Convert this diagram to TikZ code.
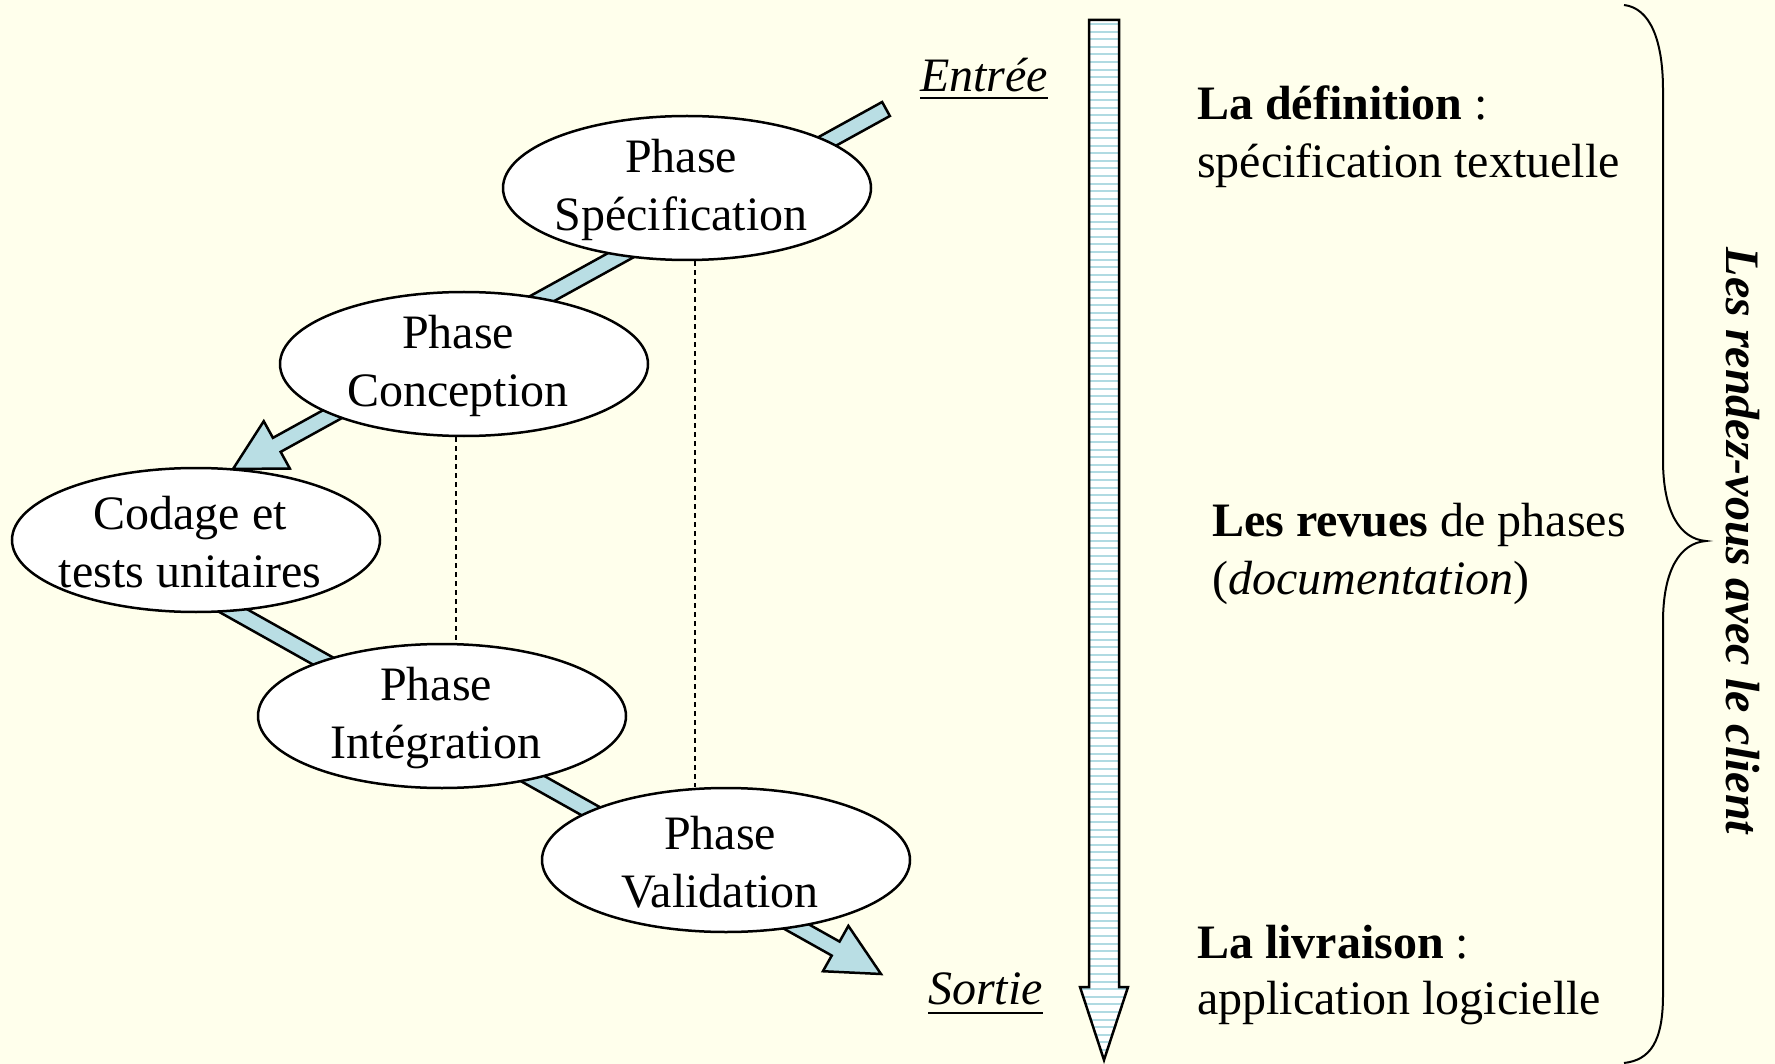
\documentclass[tikz,border=0pt]{standalone}
\usepackage{fontspec}
\setmainfont{Liberation Serif}
\usetikzlibrary{calc,shapes.geometric}
\definecolor{bgc}{RGB}{255,255,236}
\definecolor{arrc}{RGB}{185,222,228}
\definecolor{stripec}{RGB}{176,218,226}
\newcommand{\myblockarr}[5]{%
  \path ($(#2)!#5!(#1)$) coordinate (bh);
  \draw[warrow] ($(#1)!#3!90:(#2)$) -- ($(bh)!#3!90:(#2)$) -- ($(bh)!#4!90:(#2)$) -- (#2)
    -- ($(bh)!#4!-90:(#2)$) -- ($(bh)!#3!-90:(#2)$) -- ($(#1)!#3!-90:(#2)$) -- cycle;}
\begin{document}
\begin{tikzpicture}[x=1pt,y=-1pt,
  font=\fontsize{48pt}{58pt}\selectfont,
  warrow/.style={fill=arrc,draw=black,line width=2.5pt,line join=miter},
  ph/.style={ellipse,draw=black,fill=white,line width=2.5pt,minimum width=368pt,minimum height=144pt,inner sep=0pt},
  lbl/.style={align=center,inner sep=0pt,xshift=-6pt,yshift=-2pt},
  side/.style={anchor=base west,inner sep=0pt},
  dline/.style={line width=1.5pt,dash pattern=on 5pt off 4pt}]
\fill[bgc] (0,0) rectangle (1775,1064);
\useasboundingbox (0,0) rectangle (1775,1064);
% connector coordinates
\coordinate (in) at (886,109);
\coordinate (t1) at (233,469);
\coordinate (s2) at (200,592);
\coordinate (out) at (881,974);
\myblockarr{in}{t1}{8pt}{27pt}{50pt}
\myblockarr{s2}{out}{8pt}{26pt}{52pt}
% phases
\node[ph] (e1) at (687,188) {};
\node[lbl] at (e1) {Phase\\Spécification};
\node[ph] (e2) at (464,364) {};
\node[lbl] at (e2) {Phase\\Conception};
\node[ph] (e3) at (196,540) {};
\node[lbl] at (e3) {Codage et\\tests unitaires};
\node[ph] (e4) at (442,716) {};
\node[lbl] at (e4) {Phase\\Intégration};
\node[ph] (e5) at (726,860) {};
\node[lbl] at (e5) {Phase\\Validation};
% dashed links
\draw[dline] ([xshift=8pt]e1.south) -- ([xshift=8pt]e1.south |- e5.north);
\draw[dline] ([xshift=-8pt]e2.south) -- ([xshift=-8pt]e2.south |- e4.north);
% entree / sortie
\node[side,font=\fontsize{48pt}{58pt}\selectfont\itshape] (entree) at (920,92) {Entrée};
\draw[line width=2.5pt] ([yshift=-6pt]entree.base west) -- ([yshift=-6pt]entree.base east);
\node[side,font=\fontsize{48pt}{58pt}\selectfont\itshape] (sortie) at (928,1004) {Sortie};
\draw[line width=2.5pt] ([yshift=-9pt]sortie.base west) -- ([yshift=-9pt]sortie.base east);
% vertical time arrow
\def\vpath{(1089,20) -- (1119,20) -- (1119,987) -- (1128,987) -- (1104,1060) -- (1080,987) -- (1089,987) -- cycle}
\fill[white] \vpath;
\begin{scope}
  \clip \vpath;
  \foreach \yy in {0,...,140} {
    \draw[stripec,line width=2pt] (1075,{24+\yy*7.6}) -- (1135,{24+\yy*7.6});
  }
\end{scope}
\draw[line width=2.5pt,line join=miter] \vpath;
% right texts
\node[side] (d1) at (1197,120) {\textbf{La définition} :};
\node[side] (d2) at (1197,178) {spécification textuelle};
\node[side] (r1) at (1212,536) {\textbf{Les revues} de phases};
\node[side] (r2) at (1212,594) {(\textit{documentation})};
\node[side] (l1) at (1197,958) {\textbf{La livraison} :};
\node[side] (l2) at (1197,1014) {application logicielle};
% brace
\draw[line width=2pt] (1624,5) .. controls (1650,8) and (1663,40) .. (1663,90)
  -- (1663,460) .. controls (1663,512) and (1680,539) .. (1706,541)
  .. controls (1680,543) and (1663,570) .. (1663,622)
  -- (1663,995) .. controls (1663,1042) and (1650,1060) .. (1624,1063);
\node[rotate=-90,inner sep=0pt,font=\fontsize{48pt}{58pt}\selectfont\bfseries\itshape] (rdv) at (1743,541) {Les rendez-vous avec le client};
\end{tikzpicture}
\end{document}
